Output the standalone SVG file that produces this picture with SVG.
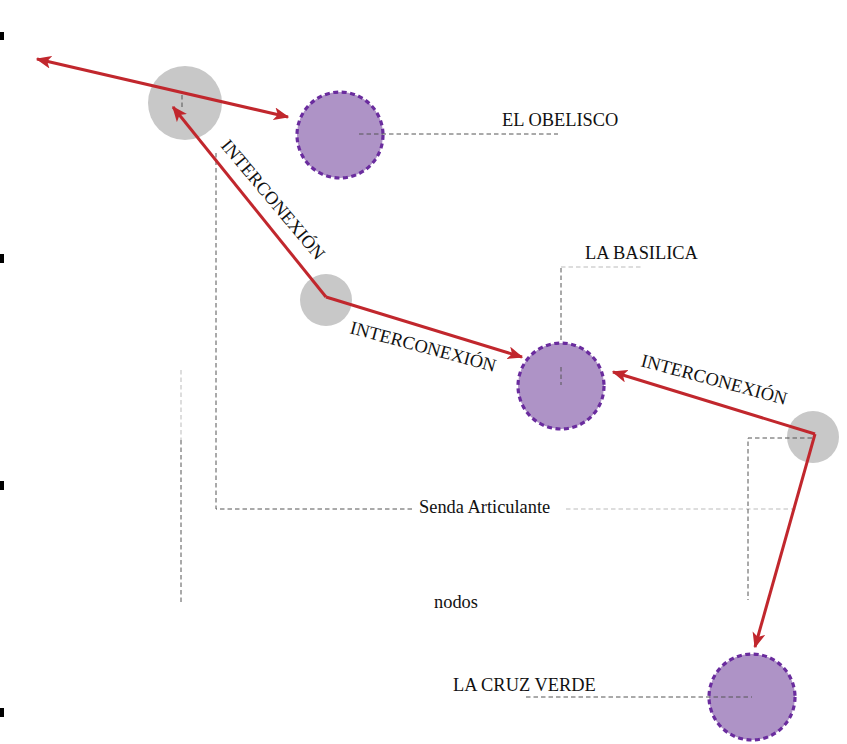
<svg xmlns="http://www.w3.org/2000/svg" width="847" height="744" viewBox="0 0 847 744">
<defs>
<style>
.gray{fill:#c8c8c8}
.poi{fill:#ae93c6;stroke:#6a2c9e;stroke-width:3.2;stroke-dasharray:5 3.5}
.lead{fill:none;stroke:#555;stroke-width:1;stroke-dasharray:4.5 3}
.leadl{fill:none;stroke:#bbb;stroke-width:1;stroke-dasharray:4.5 3}
.arr{fill:none;stroke:#c1272d;stroke-width:3}
.t{font-family:"Liberation Serif","Times New Roman",serif;font-size:18.4px;fill:#111}
.mk{fill:#000}
</style>
<marker id="ah" viewBox="0 0 12 10" refX="11" refY="5" markerWidth="5.2" markerHeight="4.4" markerUnits="strokeWidth" orient="auto-start-reverse">
<path d="M0,0 L12,5 L0,10 L3,5 z" fill="#c1272d"/>
</marker>
</defs>
<rect width="847" height="744" fill="#fff"/>
<g id="edge-marks">
<rect class="mk" x="0" y="32" width="4" height="8"/>
<rect class="mk" x="0" y="254" width="4" height="9"/>
<rect class="mk" x="0" y="481" width="4" height="9"/>
<rect class="mk" x="0" y="708" width="4" height="9"/>
</g>
<g id="node-gray1"><circle class="gray" cx="185" cy="103" r="37"/></g>
<g id="node-gray2"><circle class="gray" cx="326" cy="300" r="26"/></g>
<g id="node-gray3"><circle class="gray" cx="813" cy="437" r="26"/></g>
<g id="node-obelisco"><circle class="poi" cx="340" cy="135" r="43"/></g>
<g id="node-basilica"><circle class="poi" cx="561" cy="386" r="43"/></g>
<g id="node-cruz"><circle class="poi" cx="752" cy="697" r="43"/></g>
<g id="leaders">
<path class="lead" d="M359,134 H558"/>
<path class="lead" d="M182,95 V110"/>
<path class="lead" d="M216,153 V509 H415"/>
<path class="leadl" d="M566,509 H797"/>
<path class="leadl" d="M181,370 V440"/>
<path class="lead" d="M181,440 V602"/>
<path class="lead" d="M561,340 V267"/>
<path class="leadl" d="M561,267 H642"/>
<path class="lead" d="M561,367 V385"/>
<path class="lead" d="M812,438 H748 V600"/>
<path class="lead" d="M526,697 H752"/>
</g>
<g id="connectors">
<path class="arr" d="M37,59 L288,117" marker-start="url(#ah)" marker-end="url(#ah)"/>
<path class="arr" d="M326,297 L173,107" marker-end="url(#ah)"/>
<path class="arr" d="M326,297 L522,357" marker-end="url(#ah)"/>
<path class="arr" d="M815,434 L613,372" marker-end="url(#ah)"/>
<path class="arr" d="M815,434 L755,647" marker-end="url(#ah)"/>
</g>
<g id="labels">
<text class="t" x="502" y="126">EL OBELISCO</text>
<text class="t" x="585" y="259">LA BASILICA</text>
<text class="t" x="419" y="513">Senda Articulante</text>
<text class="t" x="434" y="608">nodos</text>
<text class="t" x="453" y="691">LA CRUZ VERDE</text>
<text class="t" transform="translate(220,146) rotate(50)">INTERCONEXIÓN</text>
<text class="t" transform="translate(349,333) rotate(15)">INTERCONEXIÓN</text>
<text class="t" transform="translate(640,366) rotate(15)">INTERCONEXIÓN</text>
</g>
</svg>
